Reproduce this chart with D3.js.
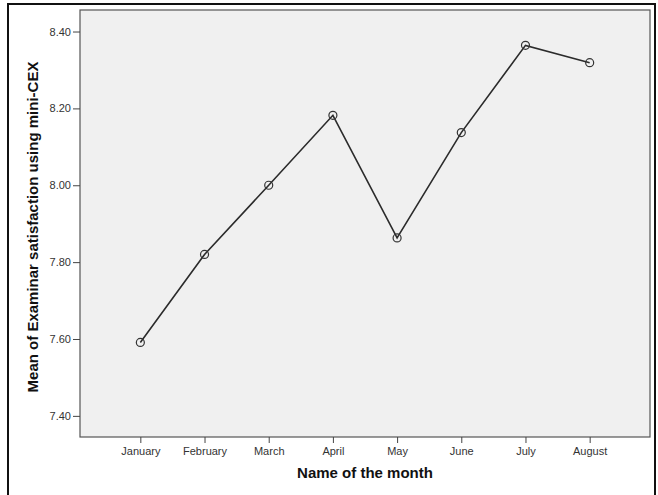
<!DOCTYPE html>
<html>
<head>
<meta charset="utf-8">
<script src="https://cdn.jsdelivr.net/npm/d3@7"></script>
<style>
  body { margin: 0; background: #fff; }
  svg { display: block; font-family: "Liberation Sans", Arial, sans-serif; }
</style>
</head>
<body>
<div id="chart"></div>
<script>
// SPSS style line chart: mean satisfaction by month
const width = 658, height = 495,
    margin = ({ top: 10, right: 8, bottom: 58, left: 80 });

const months = ["January", "February", "March", "April", "May", "June", "July", "August"];
const means = [7.591, 7.82, 8.0, 8.182, 7.863, 8.137, 8.364, 8.319];
const yTicks = [7.40, 7.60, 7.80, 8.00, 8.20, 8.40];

const data = months.map((m, i) => ({ month: m, value: means[i] }));

const svg = d3.select("#chart")
    .append("svg")
    .attr("width", width)
    .attr("height", height);

// outer frame (bottom edge runs off the picture)
svg.append("rect")
    .attr("x", 8).attr("y", 4)
    .attr("width", 647).attr("height", 500)
    .attr("fill", "none")
    .attr("stroke", "#111")
    .attr("stroke-width", 2);

let x = d3.scalePoint()
    .domain(months)
    .range([margin.left, width - margin.right])
    .padding(0.94);

let y = d3.scaleLinear()
    .domain([7.345, 8.456])
    .range([height - margin.bottom, margin.top]);

// plot background
svg.append("rect")
    .attr("x", margin.left).attr("y", margin.top)
    .attr("width", width - margin.right - margin.left)
    .attr("height", height - margin.bottom - margin.top)
    .attr("fill", "#f0f0f0")
    .attr("stroke", "#555")
    .attr("stroke-width", 1.2);

//axes
svg.append("g")
    .attr("transform", `translate(0,${height - margin.bottom})`)
    .call(d3.axisBottom(x).tickSizeOuter(0).tickSize(6).tickPadding(4))
    .call(g => g.select(".domain").remove())
    .call(g => g.selectAll("line").attr("stroke", "#444"))
    .call(g => g.selectAll("text").attr("fill", "#333").style("font-size", "11px"));

svg.append("g")
    .attr("transform", `translate(${margin.left},0)`)
    .call(d3.axisLeft(y).tickValues(yTicks).tickFormat(d3.format(".2f")).tickSize(7).tickPadding(2))
    .call(g => g.select(".domain").remove())
    .call(g => g.selectAll("line").attr("stroke", "#444"))
    .call(g => g.selectAll("text").attr("fill", "#333").style("font-size", "11px"));

// axis titles
svg.append("text")
    .attr("x", (margin.left + width - margin.right) / 2)
    .attr("y", 478)
    .attr("text-anchor", "middle")
    .style("font-size", "15px")
    .style("font-weight", "bold")
    .attr("fill", "#111")
    .text("Name of the month");

svg.append("text")
    .attr("transform", `translate(38,227) rotate(-90)`)
    .attr("text-anchor", "middle")
    .style("font-size", "15px")
    .style("font-weight", "bold")
    .attr("fill", "#111")
    .text("Mean of Examinar satisfaction using mini-CEX");

let line = d3.line()
    .x(d => x(d.month))
    .y(d => y(d.value))
    .curve(d3.curveLinear);

svg.append("path")
    .datum(data)
    .attr("d", line)
    .attr("fill", "none")
    .attr("stroke", "#2b2b2b")
    .attr("stroke-width", 1.6);

svg.selectAll(".pt")
    .data(data)
    .join("circle")
    .attr("class", "pt")
    .attr("cx", d => x(d.month))
    .attr("cy", d => y(d.value))
    .attr("r", 4)
    .attr("fill", "none")
    .attr("stroke", "#333")
    .attr("stroke-width", 1.2);
</script>
</body>
</html>
